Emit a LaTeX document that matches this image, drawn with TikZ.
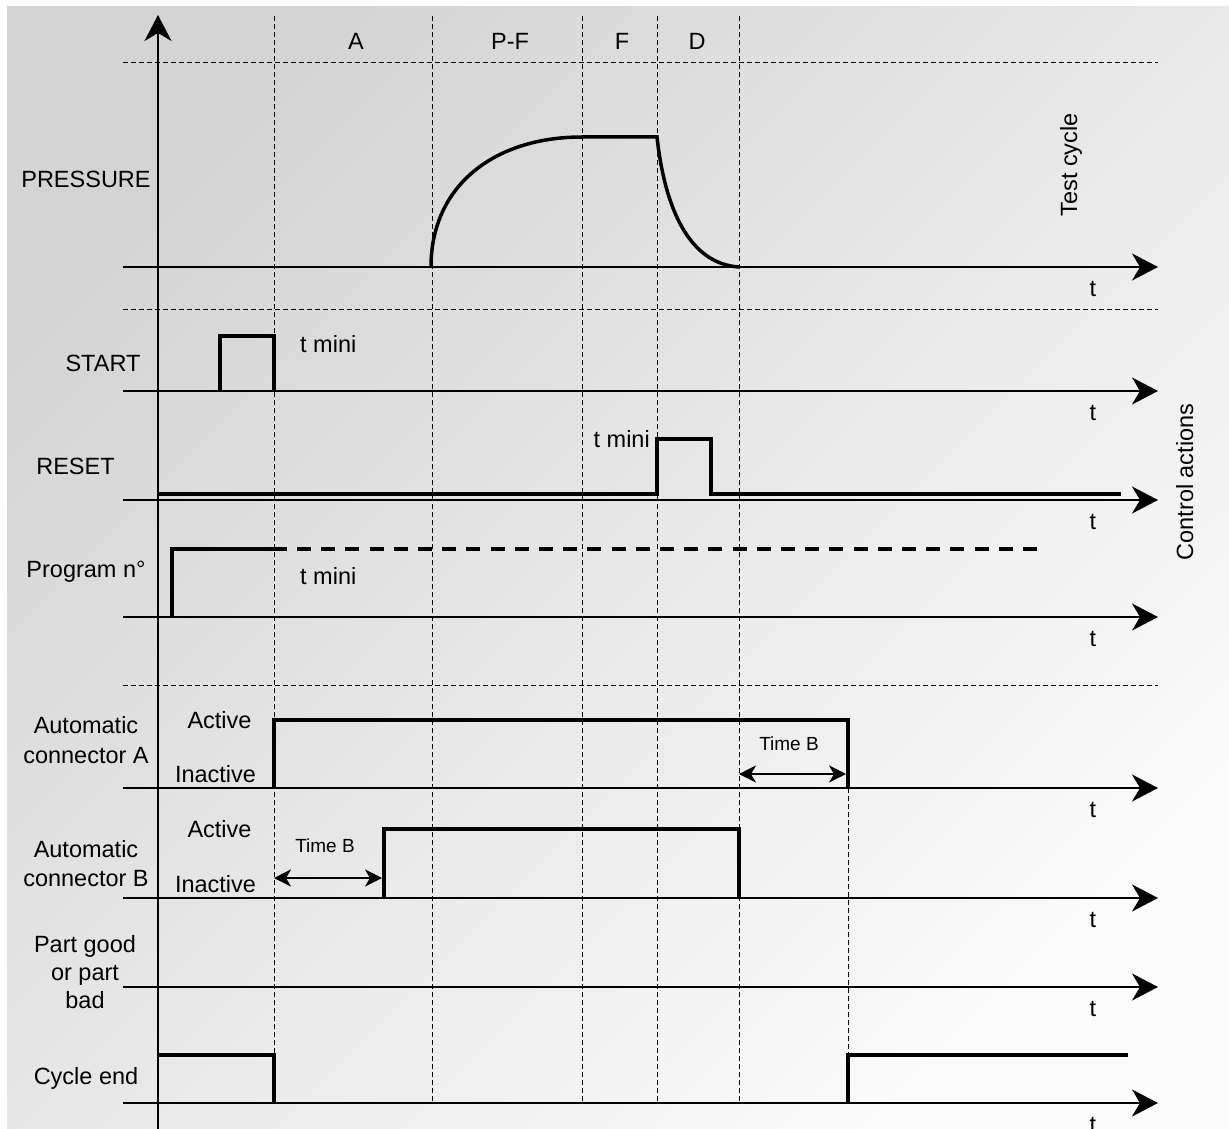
\documentclass[tikz,border=0pt]{standalone}
\usepackage{fontspec}
\setmainfont{Liberation Sans}
\usetikzlibrary{arrows.meta}
\definecolor{bgA}{RGB}{212,212,212}
\definecolor{bgB}{RGB}{251,251,251}
\begin{document}
\begin{tikzpicture}[x=1pt,y=-1pt,
 axis/.style={line width=1.6pt, -{Stealth[length=26pt,width=27pt,inset=8pt]}},
 sig/.style={line width=4pt, line join=miter},
 gridline/.style={line width=0.9pt, dash pattern=on 5pt off 3pt},
 lbl/.style={font=\fontsize{23.5}{28}\selectfont, inner sep=0pt, anchor=base},
 small/.style={font=\fontsize{19}{23}\selectfont, inner sep=0pt, anchor=base},
 dim/.style={line width=1.3pt, {Stealth[length=17pt,width=17pt,inset=5pt]}-{Stealth[length=17pt,width=17pt,inset=5pt]}}
]
\useasboundingbox (0,0) rectangle (1229,1129);
\shade[top color=bgA, bottom color=bgB, shading angle=45] (7,7) rectangle (1229,1129);

% grid
\foreach \y in {62,309,685} \draw[gridline] (123,\y) -- (1158,\y);
\foreach \x in {274,432,582,657,739} \draw[gridline] (\x,16) -- (\x,1103);
\draw[gridline] (848,788) -- (848,1103);

% axes
\coordinate (vb) at (158,1129);
\coordinate (vt) at (158,15);
\draw[axis] (vb) -- (vt);
\foreach \n/\y in {pr/267, st/391, rs/500, pg/617, ca/788, cb/898, pq/987, ce/1103} {
  \coordinate (\n L) at (123,\y);
  \coordinate (\n R) at (1158,\y);
  \draw[axis] (\n L) -- (\n R);
  \node[lbl] (\n t) at (1093,\y+29) {t};
}

% signals
\draw[line width=3.5pt] (431,267) .. controls (431,185) and (495,137) .. (582,137) -- (657,137) .. controls (665,210) and (690,264) .. (739,267);
\draw[sig] (220,391) -- (220,336) -- (274,336) -- (274,391);
\draw[sig] (158,494) -- (657,494) -- (657,439) -- (711,439) -- (711,494) -- (1121,494);
\draw[sig] (172,617) -- (172,549) -- (287,549);
\draw[sig, dash pattern=on 14pt off 10.2pt] (297,549) -- (1037,549);
\draw[sig] (274,788) -- (274,720) -- (848,720) -- (848,788);
\draw[sig] (384,898) -- (384,829) -- (739,829) -- (739,898);
\draw[sig] (158,1055) -- (274,1055) -- (274,1103);
\draw[sig] (848,1103) -- (848,1055) -- (1128,1055);

% time B dimension arrows
\coordinate (tbA1) at (739,774);
\coordinate (tbA2) at (846,774);
\draw[dim] (tbA1) -- (tbA2);
\coordinate (tbB1) at (274,878);
\coordinate (tbB2) at (382,878);
\draw[dim] (tbB1) -- (tbB2);

% phase labels
\node[lbl] (phA) at (356,50) {A};
\node[lbl] (phPF) at (510,50) {P-F};
\node[lbl] (phF) at (622,50) {F};
\node[lbl] (phD) at (697,50) {D};

% signal names
\node[lbl] (lpr) at (86,187) {PRESSURE};
\node[lbl] (lst) at (103,371) {START};
\node[lbl] (lrs) at (75.5,474) {RESET};
\node[lbl] (lpg) at (86,577) {Program n°};
\node[lbl] (lca1) at (86,733) {Automatic};
\node[lbl] (lca2) at (86,763) {connector A};
\node[lbl] (lcb1) at (86,857) {Automatic};
\node[lbl] (lcb2) at (86,886) {connector B};
\node[lbl] (lpq1) at (85,952) {Part good};
\node[lbl] (lpq2) at (85,980) {or part};
\node[lbl] (lpq3) at (85,1008) {bad};
\node[lbl] (lce) at (86,1084) {Cycle end};

% states
\node[lbl] (actA) at (219.5,728) {Active};
\node[lbl] (inaA) at (215.5,782) {Inactive};
\node[lbl] (actB) at (219.5,837) {Active};
\node[lbl] (inaB) at (215.5,892) {Inactive};

% t mini
\node[lbl, anchor=base west] (tm1) at (300,352) {t mini};
\node[lbl, anchor=base east] (tm2) at (650,447) {t mini};
\node[lbl, anchor=base west] (tm3) at (300,584) {t mini};

% Time B
\node[small] (tbAl) at (789,750) {Time B};
\node[small] (tbBl) at (325,852) {Time B};

% side labels
\node[lbl, rotate=90] (test) at (1077,165) {Test cycle};
\node[lbl, rotate=90] (ctrl) at (1193,482) {Control actions};
\end{tikzpicture}
\end{document}
